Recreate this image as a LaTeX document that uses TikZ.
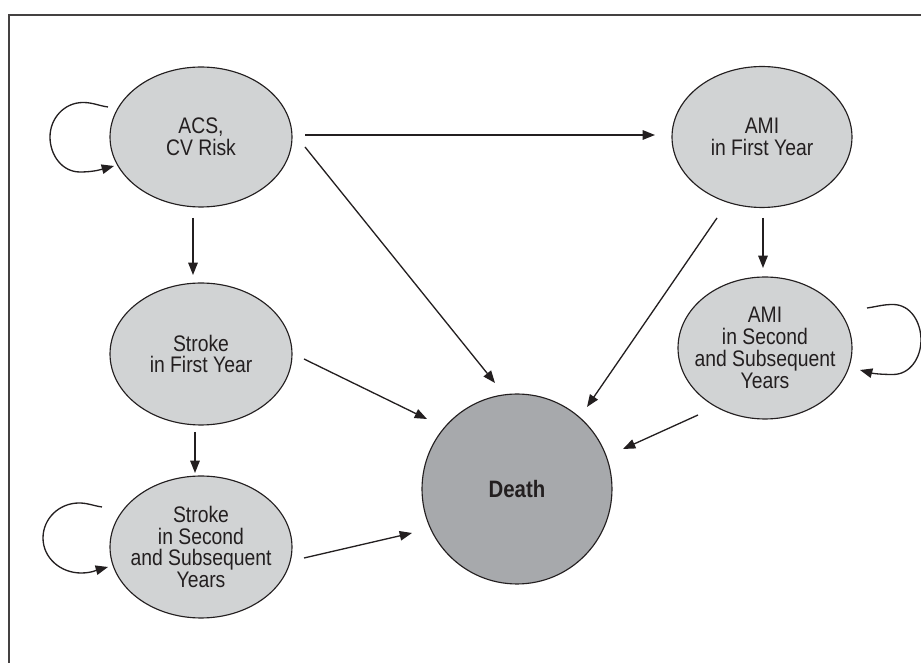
\documentclass[tikz,border=0pt]{standalone}
\usepackage{fontspec}
\setmainfont{Liberation Sans}[FakeStretch=0.86]
\usetikzlibrary{arrows.meta,calc,shapes.geometric}
\definecolor{lightfill}{HTML}{D1D3D4}
\definecolor{darkfill}{HTML}{A7A9AC}
\definecolor{ink}{HTML}{231F20}
\begin{document}
\begin{tikzpicture}[x=0.02cm,y=0.02cm,
  state/.style={ellipse, draw=ink, line width=0.65pt, fill=lightfill, inner sep=0pt},
  txt/.style={align=center, text=ink, font=\fontsize{12.8}{12.4}\selectfont, inner sep=0pt},
  conn/.style={draw=ink, line width=0.75pt, -{Triangle[length=7pt,width=5.4pt]}},
  frameline/.style={draw=ink!85, line width=0.9pt}]
\useasboundingbox (0,0) rectangle (921,663);
\coordinate (fbl) at (9,0);
\coordinate (ftl) at (9,648);
\coordinate (ftr) at (921,648);
\draw[frameline] (fbl) -- (ftl) -- (ftr);

\node[state, minimum width=3.64cm, minimum height=2.8cm] (acs) at (201,526) {};
\node[state, minimum width=3.6cm, minimum height=2.82cm] (amif) at (762,526) {};
\node[state, minimum width=3.64cm, minimum height=2.84cm] (strf) at (201,309) {};
\node[state, minimum width=3.64cm, minimum height=2.84cm] (strs) at (201,116) {};
\node[state, minimum width=3.48cm, minimum height=2.84cm] (amis) at (765,315) {};
\node[circle, draw=ink, line width=0.65pt, fill=darkfill, minimum size=3.8cm, inner sep=0pt] (death) at (517,174) {};

\node[txt] (acs-t) at (acs) {ACS,\\CV Risk};
\node[txt] (amif-t) at (amif) {AMI\\in First Year};
\node[txt] (strf-t) at (strf) {Stroke\\in First Year};
\node[txt] (strs-t) at (strs) {Stroke\\in Second\\and Subsequent\\Years};
\node[txt] (amis-t) at (amis) {AMI\\in Second\\and Subsequent\\Years};
\node[txt, font=\fontsize{13.5}{14}\selectfont\bfseries] (death-t) at (death) {Death};

\draw[conn] ($(acs)+(104,2)$) -- ($(amif)+(-107,2)$);
\draw[conn] ($(acs)+(104,-10)$) -- ($(death)+(-22,106)$);
\draw[conn] ($(amif)+(-45,-81)$) -- ($(death)+(70,82)$);
\draw[conn] ($(amif)+(1,-81)$) -- ($(amis)+(-2,80)$);
\draw[conn] ($(acs)+(-8,-81)$) -- ($(strf)+(-8,79)$);
\draw[conn] ($(strf)+(-6,-78)$) -- ($(strs)+(-6,74)$);
\draw[conn] ($(strf)+(103,-5)$) -- ($(death)+(-90,70)$);
\draw[conn] ($(strs)+(103,-11)$) -- ($(death)+(-105,-44)$);
\draw[conn] ($(amis)+(-67,-67)$) -- ($(death)+(106,40)$);

\draw[conn] ($(acs)+(-93,30)$) to[out=172,in=0] ($(acs)+(-118,34.5)$)
  to[out=180,in=90] ($(acs)+(-151,0)$) to[out=-90,in=180] ($(acs)+(-121,-35)$)
  to[out=0,in=195] ($(acs)+(-87,-29)$);
\draw[conn] ($(strs)+(-99,40)$) to[out=172,in=0] ($(strs)+(-122,44)$)
  to[out=180,in=90] ($(strs)+(-158,9)$) to[out=-90,in=180] ($(strs)+(-120,-26)$)
  to[out=0,in=195] ($(strs)+(-93,-20)$);
\draw[conn] ($(amis)+(102,40)$) to[out=8,in=180] ($(amis)+(128,43.5)$)
  to[out=0,in=90] ($(amis)+(156,8)$) to[out=-90,in=0] ($(amis)+(128,-26.5)$)
  to[out=180,in=-15] ($(amis)+(95,-22)$);
\end{tikzpicture}
\end{document}
